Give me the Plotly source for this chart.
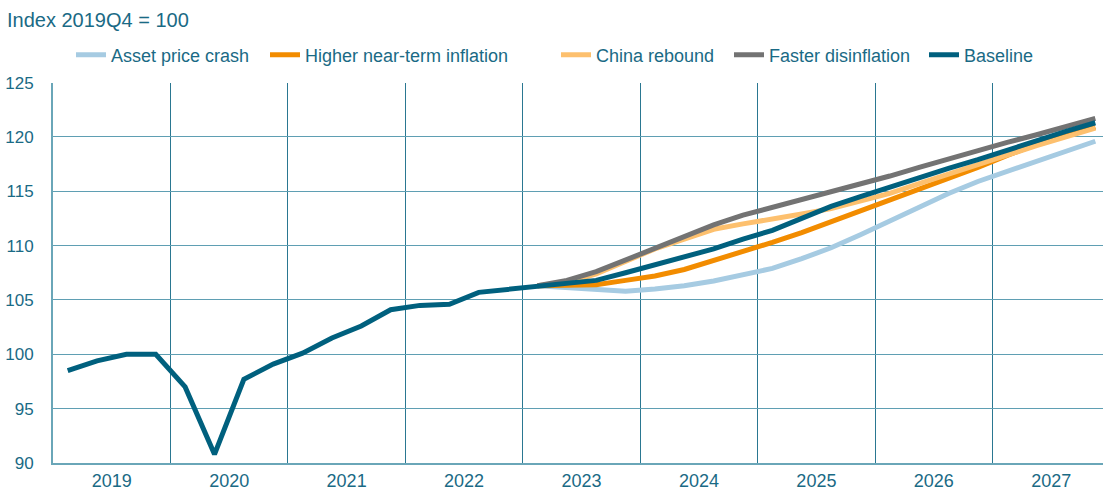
import plotly.graph_objects as go

quarters = [f"{y}Q{q}" for y in range(2019, 2028) for q in range(1, 5)]
years = [str(y) for y in range(2019, 2028)]

# Shared history 2019Q1..2023Q1
history = [98.5, 99.4, 100.0, 100.0, 97.0, 90.8, 97.7, 99.1, 100.1, 101.5, 102.6,
           104.1, 104.5, 104.6, 105.7, 106.0, 106.3]

# Projections 2023Q2..2027Q4
asset_crash = [106.1, 105.95, 105.8, 106.0, 106.3, 106.75, 107.3, 107.9, 108.8, 109.8,
               111.0, 112.3, 113.6, 114.8, 115.9, 116.8, 117.7, 118.6, 119.6]
higher_infl = [106.3, 106.4, 106.8, 107.2, 107.8, 108.6, 109.4, 110.3, 111.2, 112.2,
               113.1, 114.2, 115.2, 116.2, 117.2, 118.3, 119.3, 120.1, 120.9]
china = [106.6, 107.4, 108.5, 109.7, 110.6, 111.5, 112.0, 112.4, 112.9, 113.4,
         114.1, 114.8, 115.7, 116.6, 117.5, 118.4, 119.2, 120.0, 120.8]
faster_dis = [106.8, 107.6, 108.7, 109.8, 110.9, 111.9, 112.8, 113.5, 114.2, 115.0,
              115.7, 116.4, 117.2, 118.0, 118.7, 119.5, 120.2, 120.9, 121.7]
baseline = [106.5, 106.8, 107.5, 108.2, 108.9, 109.7, 110.6, 111.4, 112.5, 113.6,
            114.5, 115.4, 116.3, 117.1, 117.9, 118.8, 119.7, 120.5, 121.3]

names = ["Asset price crash", "Higher near-term inflation", "China rebound",
         "Faster disinflation", "Baseline"]
colors = ["#a6cbe2", "#f28c00", "#fdc06e", "#737373", "#00607e"]
legend_x = [74, 268, 559, 732, 927]

TEXT = "#1a6a85"
FONT = "Liberation Sans, Arial, sans-serif"

idx = list(range(len(quarters)))
start = len(history) - 1
legend_keys = ["legend", "legend2", "legend3", "legend4", "legend5"]

fig = go.Figure()
series = [asset_crash, higher_infl, china, faster_dis]
for i, s in enumerate(series):
    xs = idx[start:]
    ys = [history[-1]] + s
    fig.add_trace(go.Scatter(x=xs, y=ys, mode="lines", name=names[i],
                             line=dict(color=colors[i], width=5),
                             showlegend=True, legend=legend_keys[i]))
fig.add_trace(go.Scatter(x=idx, y=history + baseline, mode="lines", name=names[4],
                         line=dict(color=colors[4], width=5),
                         showlegend=True, legend=legend_keys[4]))

W, H = 1103, 492
layout_legends = {}
for i, lx in enumerate(legend_x):
    layout_legends[legend_keys[i]] = dict(
        orientation="h", xref="container", yref="container",
        x=(lx - 3) / W, xanchor="left", y=1 - 55 / H, yanchor="middle",
        font=dict(size=18, color=TEXT, family=FONT), bgcolor="rgba(0,0,0,0)",
        itemwidth=30, visible=True,
    )

fig.update_layout(
    width=W, height=H,
    showlegend=True,
    margin=dict(l=53, r=0, t=78, b=29),
    paper_bgcolor="white", plot_bgcolor="white",
    font=dict(family=FONT, color=TEXT, size=17),
    title=dict(text="Index 2019Q4 = 100", x=7 / W, xanchor="left",
               y=1 - 20 / H, yanchor="middle", font=dict(size=20, color=TEXT)),
    **layout_legends,
)

fig.update_xaxes(
    range=[-0.5, -0.5 + (W - 53) / (1057 / 36)],
    tickmode="array", tickvals=[4 * k + 1.5 for k in range(len(years))], ticktext=years,
    showgrid=False, ticks="", zeroline=False,
    showline=True, linecolor="#6aa6b8", linewidth=2,
    tickfont=dict(size=18, color=TEXT),
    minor=dict(tickmode="linear", tick0=-0.5, dtick=4, showgrid=True,
               gridcolor="#2a7791", gridwidth=1, ticks=""),
)
fig.update_yaxes(
    range=[90, 125], dtick=5, showgrid=True, gridcolor="#5f9fb3", gridwidth=1,
    zeroline=False, showline=True, linecolor="#6aa6b8", linewidth=2,
    ticks="", ticklabelstandoff=14, tickfont=dict(size=17, color=TEXT),
)

fig.write_html("out.html")
